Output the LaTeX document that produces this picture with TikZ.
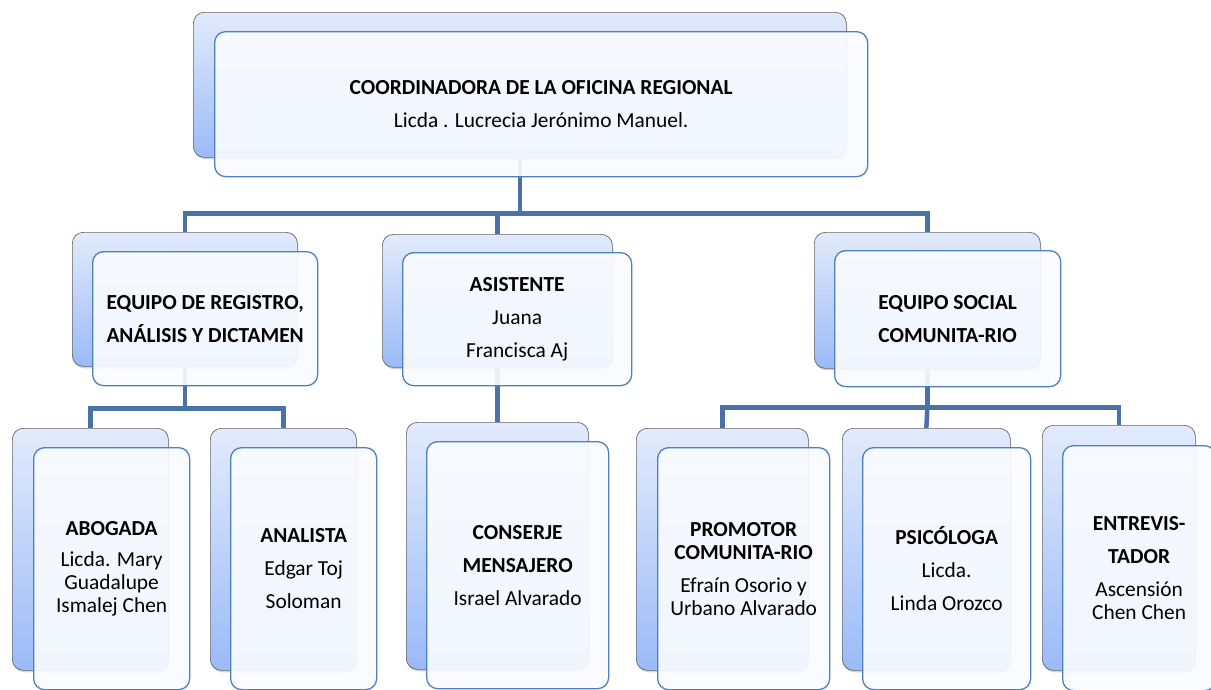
\documentclass[tikz,border=0pt]{standalone}
\usepackage{fontspec}
\setmainfont{Carlito}
\usetikzlibrary{positioning,backgrounds,shadows}
\definecolor{linkblue}{HTML}{4A72A8}
\definecolor{frontblue}{HTML}{4F7FBC}
\definecolor{frontfill}{HTML}{F9FBFF}
\definecolor{backtop}{HTML}{E2EBFC}
\definecolor{backbot}{HTML}{9ABAF8}

\begin{document}
\begin{tikzpicture}[x=1pt,y=-1pt,
	every node/.style={font=\fontsize{21.4}{23}\selectfont},
	back/.style={anchor=north west,inner sep=0pt,rounded corners=11pt,draw=gray!80!black,line width=0.7pt,top color=backtop,bottom color=backbot,drop shadow={shadow xshift=1pt,shadow yshift=-2pt,opacity=0.35}},
	front/.style={anchor=north west,inner sep=0pt,rounded corners=11pt,draw=frontblue,line width=1.3pt,fill=frontfill,fill opacity=0.92,text opacity=1,align=center},
	dims/.style 2 args={minimum width=#1pt,minimum height=#2pt},
	link/.style={draw=linkblue,line width=4.5pt}]

	\useasboundingbox (0,0) rectangle (1211,689);

	% top
	\node[back,dims={653}{145}] (coordB) at (193,12) {};
	\node[front,dims={653}{145}] (coord) at ([shift={(21,19)}]coordB.north west)
		{\textbf{COORDINADORA DE LA OFICINA REGIONAL}\\[10pt] Licda . Lucrecia Jerónimo Manuel.};

	% second row
	\node[back,dims={225}{134}] (regB) at (72,232) {};
	\node[front,dims={225}{134}] (reg) at ([shift={(20,19)}]regB.north west)
		{\textbf{EQUIPO DE REGISTRO,}\\[10pt] \textbf{ANÁLISIS Y DICTAMEN}};

	\node[back,dims={230}{133}] (asisB) at (382,234) {};
	\node[front,dims={229}{133}] (asis) at ([shift={(20,18)}]asisB.north west)
		{\textbf{ASISTENTE}\\[10pt] Juana\\[10pt] Francisca Aj};

	\node[back,dims={226}{136}] (socB) at (814,232) {};
	\node[front,dims={226}{136}] (soc) at ([shift={(20,18)}]socB.north west)
		{\textbf{EQUIPO SOCIAL}\\[10pt] \textbf{COMUNITA-RIO}};

	% third row
	\node[back,dims={156}{242}] (aboB) at (12,428) {};
	\node[front,dims={156}{242}] (abo) at ([shift={(21,19)}]aboB.north west)
		{\textbf{ABOGADA}\\[8pt] Licda. Mary\\ Guadalupe\\ Ismalej Chen};

	\node[back,dims={146}{242}] (anaB) at (210,428) {};
	\node[front,dims={146}{242}] (ana) at ([shift={(20,19)}]anaB.north west)
		{\textbf{ANALISTA}\\[10pt] Edgar Toj\\[10pt] Soloman};

	\node[back,dims={182}{247}] (conB) at (406,422) {};
	\node[front,dims={182}{247}] (con) at ([shift={(20,19)}]conB.north west)
		{\textbf{CONSERJE}\\[10pt] \textbf{MENSAJERO}\\[10pt] Israel Alvarado};

	\node[back,dims={172}{242}] (proB) at (636,428) {};
	\node[front,dims={172}{242}] (pro) at ([shift={(21,19)}]proB.north west)
		{\textbf{PROMOTOR}\\ \textbf{COMUNITA-RIO}\\[10pt] Efraín Osorio y\\ Urbano Alvarado};

	\node[back,dims={168}{242}] (psiB) at (842,428) {};
	\node[front,dims={168}{242}] (psi) at ([shift={(20,19)}]psiB.north west)
		{\textbf{PSICÓLOGA}\\[10pt] Licda.\\[10pt] Linda Orozco};

	\node[back,dims={153}{245}] (entB) at (1042,425) {};
	\node[front,dims={153}{245}] (ent) at ([shift={(20,20)}]entB.north west)
		{\textbf{ENTREVIS-}\\[10pt] \textbf{TADOR}\\[10pt] Ascensión\\ Chen Chen};

	% connectors
	\path (coordB.south) ++(0,56) coordinate (bus1);
	\path (regB.south) ++(0,42) coordinate (bus2);
	\path (socB.south) ++(0,39) coordinate (bus3);
	\begin{scope}[on background layer]
		\draw[link] (coordB.south) -- (bus1) -| (regB.north);
		\draw[link] (bus1) -| (asisB.north);
		\draw[link] (bus1) -| (socB.north);
		\draw[link] (regB.south) -- (bus2) -| (aboB.north);
		\draw[link] (bus2) -| (anaB.north);
		\draw[link] (asisB.south) -- (conB.north);
		\draw[link] (socB.south) -- (bus3) -| (proB.north);
		\draw[link] (bus3) -- (psiB.north);
		\draw[link] (bus3) -| (entB.north);
	\end{scope}
\end{tikzpicture}
\end{document}
